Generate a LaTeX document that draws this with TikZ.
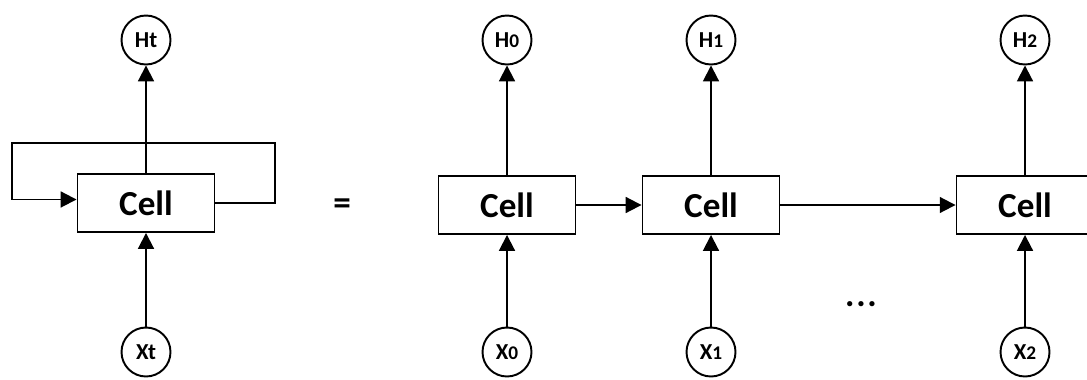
\documentclass[tikz,border=0pt]{standalone}
\usepackage{fontspec}
\setmainfont{Carlito}
\usetikzlibrary{arrows.meta}
\newcommand{\smallidx}[1]{{\fontsize{11}{12}\selectfont #1}}
\begin{document}
\begin{tikzpicture}[x=0.02cm,y=-0.02cm,
    cellbox/.style={draw,line width=1.1pt,minimum width=2.74cm,minimum height=1.16cm,inner sep=0pt,
        font=\bfseries\fontsize{20}{22}\selectfont},
    state/.style={draw,line width=1.1pt,circle,minimum size=0.98cm,inner sep=0pt,
        font=\bfseries\fontsize{13}{15}\selectfont},
    flow/.style={line width=1.1pt,-{Triangle[length=9pt,width=9pt]}}]
\useasboundingbox (0,0) rectangle (1087,379);
% folded form
\node[cellbox] (cellL) at (146,203) {Cell};
\node[state] (Ht) at (146,40) {Ht};
\node[state] (Xt) at (146,352) {Xt};
\draw[flow] (Xt) -- (cellL);
\draw[flow] (cellL) -- (Ht);
\draw[flow] (cellL.east) -- ++(60,0) |- (12,143) |- ([yshift=2pt]cellL.west);
\node[font=\bfseries\fontsize{20}{22}\selectfont] (eq) at (342,207) {=};
% unrolled form
\foreach \i/\x in {0/507,1/711,2/1025}{
    \node[cellbox] (cell\i) at (\x,205) {Cell};
    \node[state] (H\i) at (\x,40) {H\smallidx{\i}};
    \node[state] (X\i) at (\x,352) {X\smallidx{\i}};
    \draw[flow] (X\i) -- (cell\i);
    \draw[flow] (cell\i) -- (H\i);
}
\draw[flow] (cell0) -- (cell1);
\draw[flow] (cell1) -- (cell2);
\node[font=\bfseries\fontsize{20}{22}\selectfont] (dots) at (861,304) {.\kern1pt.\kern1pt.};
\end{tikzpicture}
\end{document}
